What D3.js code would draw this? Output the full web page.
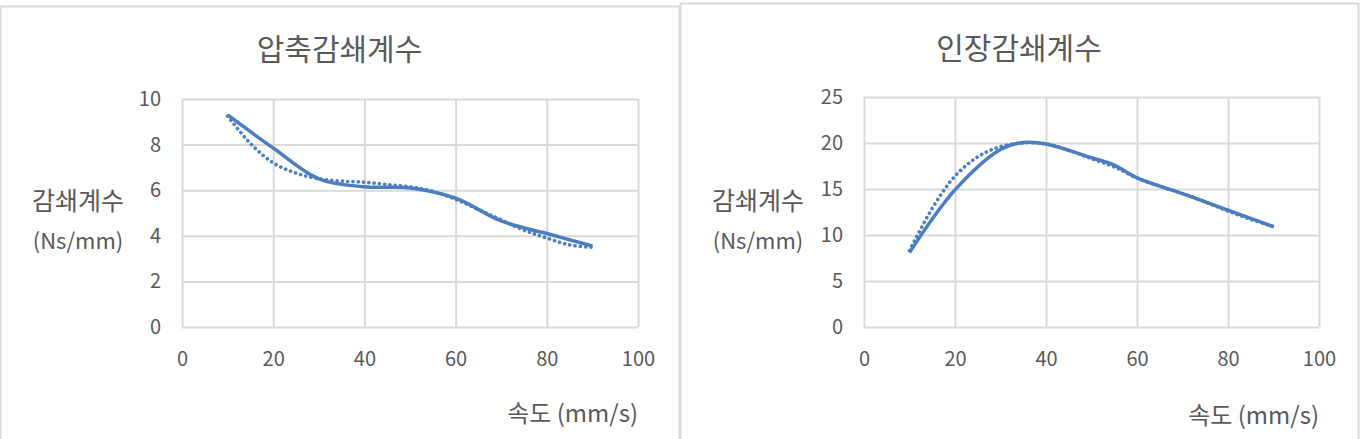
<!DOCTYPE html>
<html>
<head>
<meta charset="utf-8">
<script src="https://cdn.jsdelivr.net/npm/d3@7"></script>
<style>
  body { margin: 0; background: #fff; }
  svg { display: block; font-family: "Noto Sans CJK KR", "Noto Sans", sans-serif; }
  .panel { fill: #fff; stroke: #d9d9d9; stroke-width: 2; }
  .grid line { stroke: #d9d9d9; stroke-width: 2; }
  .grid .domain { display: none; }
  .tick-labels .domain { display: none; }
  .tick-labels text { fill: #595959; font-size: 20px; }
  .title { fill: #595959; font-size: 30px; }
  .axis-title { fill: #595959; font-size: 25px; }
  .solid-line { fill: none; stroke: #4a7ec1; stroke-width: 3.5; }
  .dot-line { fill: none; stroke: #4a7ec1; stroke-width: 3.6; stroke-linecap: round; stroke-dasharray: 0.1 5.2; }
</style>
</head>
<body>
<div class="app"></div>
<script>
'use strict'

// 압축 (compression) - measured points
var compSpeed = [10, 20, 30, 40, 50, 60, 70, 80, 90];
var compCoef = [9.3, 7.85, 6.5, 6.15, 6.1, 5.65, 4.65, 4.1, 3.55];
// 압축 - dotted trend
var compTrendSpeed = [10, 15, 20, 25, 30, 35, 40, 45, 50, 55, 60, 65, 70, 75, 80, 85, 90];
var compTrend = [9.25, 8.05, 7.2, 6.75, 6.5, 6.4, 6.35, 6.25, 6.15, 5.95, 5.6, 5.15, 4.7, 4.25, 3.9, 3.6, 3.5];

// 인장 (tension) - measured points
var tensSpeed = [10, 20, 30, 35, 40, 50, 55, 60, 70, 80, 90];
var tensCoef = [8.1, 14.9, 19.3, 20.05, 19.9, 18.4, 17.6, 16.2, 14.5, 12.7, 10.9];
// 인장 - dotted trend
var tensTrendSpeed = [10, 15, 20, 25, 30, 35, 40, 45, 50, 55, 60, 65, 70, 75, 80, 85, 90];
var tensTrend = [8.3, 12.9, 16.4, 18.5, 19.6, 20.0, 19.9, 19.2, 18.3, 17.4, 16.2, 15.3, 14.5, 13.6, 12.6, 11.7, 10.9];

var xTicks = [0, 20, 40, 60, 80, 100];
var compTicks = [0, 2, 4, 6, 8, 10];
var tensTicks = [0, 5, 10, 15, 20, 25];

var svg = d3.select(".app")
            .append("svg")
            .attr("width", 1363)
            .attr("height", 439)
;

function zip(xs, ys) {
  return xs.map(function(x, i) { return {x: x, y: ys[i]}; });
}

function drawChart(cfg) {
  var g = svg.append("g").attr("transform", "translate(" + cfg.left + "," + cfg.top + ")");

  // chart frame
  g.append("rect")
   .attr("class", "panel")
   .attr("x", 0.5)
   .attr("y", 0.5)
   .attr("width", cfg.width)
   .attr("height", 460)
  ;

  var x = d3.scaleLinear().domain([0, 100]).range([cfg.plot.x0, cfg.plot.x1]);
  var y = d3.scaleLinear().domain([0, d3.max(cfg.yTicks)]).range([cfg.plot.y1, cfg.plot.y0]);

  // vertical grid
  g.append("g")
   .attr("class", "grid")
   .attr("transform", "translate(0," + cfg.plot.y1 + ")")
   .call(d3.axisBottom(x).tickValues(xTicks).tickSize(-(cfg.plot.y1 - cfg.plot.y0)).tickFormat(""))
  ;
  // horizontal grid
  g.append("g")
   .attr("class", "grid")
   .attr("transform", "translate(" + cfg.plot.x0 + ",0)")
   .call(d3.axisLeft(y).tickValues(cfg.yTicks).tickSize(-(cfg.plot.x1 - cfg.plot.x0)).tickFormat(""))
  ;

  // tick labels
  g.append("g")
   .attr("class", "tick-labels")
   .attr("transform", "translate(0," + cfg.plot.y1 + ")")
   .call(d3.axisBottom(x).tickValues(xTicks).tickSize(0).tickPadding(25))
  ;
  g.append("g")
   .attr("class", "tick-labels")
   .attr("transform", "translate(" + cfg.plot.x0 + ",0)")
   .call(d3.axisLeft(y).tickValues(cfg.yTicks).tickSize(0).tickPadding(21))
  ;
  g.selectAll(".tick-labels").attr("font-size", null).attr("font-family", null);

  var line = d3.line()
               .curve(d3.curveCatmullRom.alpha(0.5))
               .x(function(d) { return x(d.x); })
               .y(function(d) { return y(d.y); })
  ;

  g.append("path").attr("class", "solid-line").attr("d", line(cfg.series));
  g.append("path").attr("class", "dot-line").attr("d", line(cfg.trend));

  // titles
  g.append("text")
   .attr("class", "title")
   .attr("x", cfg.width / 2)
   .attr("y", cfg.titleY)
   .attr("text-anchor", "middle")
   .text(cfg.title)
  ;
  g.append("text")
   .attr("class", "axis-title")
   .attr("x", cfg.yTitleX)
   .attr("y", cfg.yTitleY)
   .attr("text-anchor", "middle")
   .text("감쇄계수")
  ;
  g.append("text")
   .attr("class", "axis-title")
   .attr("x", cfg.yTitleX)
   .attr("y", cfg.yTitleY + 39)
   .attr("text-anchor", "middle")
   .style("font-size", "22px")
   .text("(Ns/mm)")
  ;
  g.append("text")
   .attr("class", "axis-title")
   .attr("x", cfg.plot.x1)
   .attr("y", cfg.xTitleY)
   .attr("text-anchor", "end")
   .style("font-size", "24px")
   .text("속도 (mm/s)")
  ;
}

drawChart({
  left: 0, top: 6, width: 679,
  plot: {x0: 182, x1: 638, y0: 93, y1: 321},
  yTicks: compTicks,
  series: zip(compSpeed, compCoef),
  trend: zip(compTrendSpeed, compTrend),
  title: "압축감쇄계수",
  titleY: 54,
  yTitleX: 78, yTitleY: 204,
  xTitleY: 416
});

drawChart({
  left: 680, top: 3, width: 678,
  plot: {x0: 184, x1: 639, y0: 94, y1: 324},
  yTicks: tensTicks,
  series: zip(tensSpeed, tensCoef),
  trend: zip(tensTrendSpeed, tensTrend),
  title: "인장감쇄계수",
  titleY: 56,
  yTitleX: 78, yTitleY: 207,
  xTitleY: 421
});
</script>
</body>
</html>
